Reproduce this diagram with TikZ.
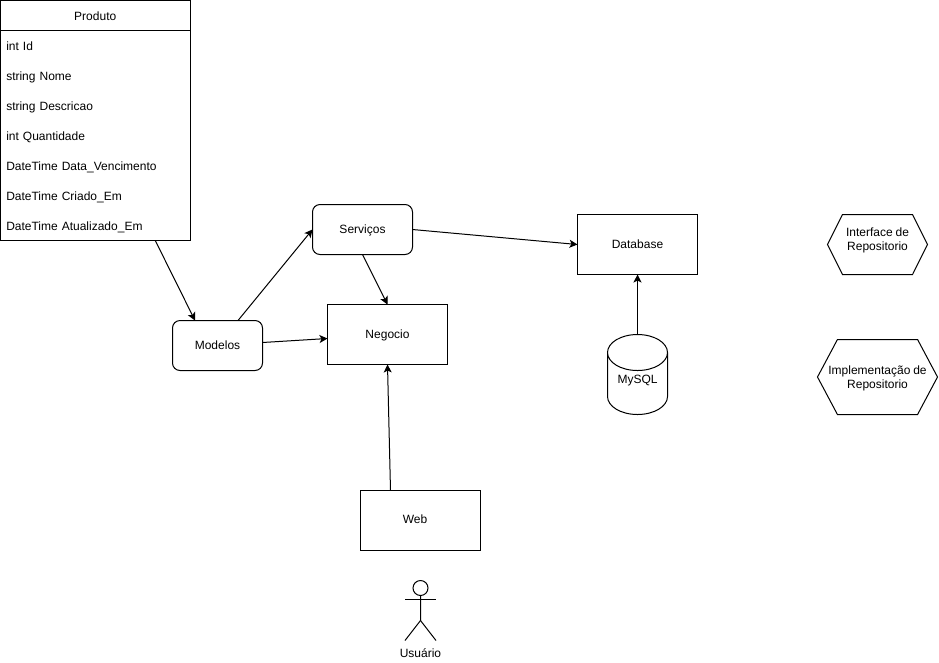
\documentclass[tikz,border=0pt]{standalone}
\usepackage{fontspec}
\setmainfont[WordSpace=0.85]{Liberation Sans}
\usepackage{tikz}
\usetikzlibrary{positioning,arrows.meta,shapes.geometric,shapes.symbols,fit}

\begin{document}
\begin{tikzpicture}[x=1pt,y=-1pt,font=\fontsize{12}{14}\selectfont,line width=1pt,
  box/.style={draw, align=center, outer sep=0pt, minimum width=120pt, minimum height=60pt,
              text height=7.4pt, text depth=0pt},
  rbox/.style={draw, rounded corners=7.5pt, align=center, outer sep=0pt, minimum height=50pt,
               text height=7pt, text depth=0pt},
  field/.style={anchor=west, align=left, outer sep=0pt, inner sep=0pt, inner xsep=6pt,
                minimum width=190pt, minimum height=30pt, text width=178pt,
                text height=9pt, text depth=0pt},
  hexa/.style={draw, signal, signal to=west and east, outer sep=0pt, inner sep=0pt},
  arr/.style={-{Stealth[length=8pt,width=8pt,inset=2pt]}}]
\useasboundingbox (0,0) rectangle (939,662);
% tabela
\node[draw, outer sep=0pt, minimum width=189.5pt, minimum height=30pt,
      text height=9pt, text depth=0pt] (produto) at (95.25,15.5) {Produto};
\node[field, below=0pt of produto] (id) {int Id};
\node[field, below=0pt of id] (nome) {string Nome};
\node[field, below=0pt of nome] (descricao) {string Descricao};
\node[field, below=0pt of descricao] (quantidade) {int Quantidade};
\node[field, below=0pt of quantidade] (vencimento) {DateTime Data\_Vencimento};
\node[field, below=0pt of vencimento] (criado) {DateTime Criado\_Em};
\node[field, below=0pt of criado] (atualizado) {DateTime Atualizado\_Em};
\node[draw, fit=(produto)(atualizado), inner sep=0pt, outer sep=0pt] (tabela) {};
% camadas
\node[rbox, minimum width=100pt] (servicos) at (362.5,229.5) {Serviços};
\node[box, below=50pt of servicos, xshift=25pt] (negocio) {Negocio};
\node[rbox, minimum width=90pt, left=65pt of negocio, yshift=-11pt] (modelos) {Modelos};
\node[box, right=165pt of servicos, yshift=-15pt] (database) {Database};
\node[box, below=126pt of negocio, xshift=33pt,
      label={[xshift=-5.5pt,yshift=1pt]center:Web}] (web) {};
\node[draw, cylinder, shape border rotate=90, aspect=0.9, outer sep=0pt, inner sep=0pt,
      minimum width=60pt, minimum height=80pt, below=60pt of database,
      text depth=8pt] (mysql) {MySQL};
\node[hexa, minimum width=100pt, minimum height=60pt, signal pointer angle=127, right=130pt of database,
      label={[align=center,yshift=4.5pt]center:Interface de\\Repositorio}] (interface) {};
\node[hexa, minimum width=120pt, minimum height=75pt, signal pointer angle=124, below=65pt of interface,
      label={[align=center,yshift=-1.5pt]center:Implementação de\\Repositorio}] (implementacao) {};
% ator
\node[draw, circle, minimum size=15pt, inner sep=0pt, outer sep=0pt, below=30pt of web] (cabeca) {};
\draw (cabeca.south) -- ++(0,25) -- ++(-15.5,20);
\draw (cabeca.south) ++(0,25) -- ++(15.5,20);
\draw (cabeca.south) ++(-15.5,4) -- ++(31,0);
\node[below=52.5pt of cabeca, inner sep=0pt] (usuario) {Usuário};
% ligacoes
\draw[arr] ([xshift=60pt]tabela.south) -- ([xshift=-22.5pt]modelos.north);
\draw[arr] ([xshift=20.5pt]modelos.north) -- (servicos.west);
\draw[arr] ([yshift=3pt]modelos.east) -- ([yshift=-4pt]negocio.west);
\draw[arr] (servicos.south) -- (negocio.north);
\draw[arr] (servicos.east) -- (database.west);
\draw[arr] (mysql.north) -- (database.south);
\draw[arr] ([xshift=-30pt]web.north) -- (negocio.south);
\end{tikzpicture}
\end{document}
